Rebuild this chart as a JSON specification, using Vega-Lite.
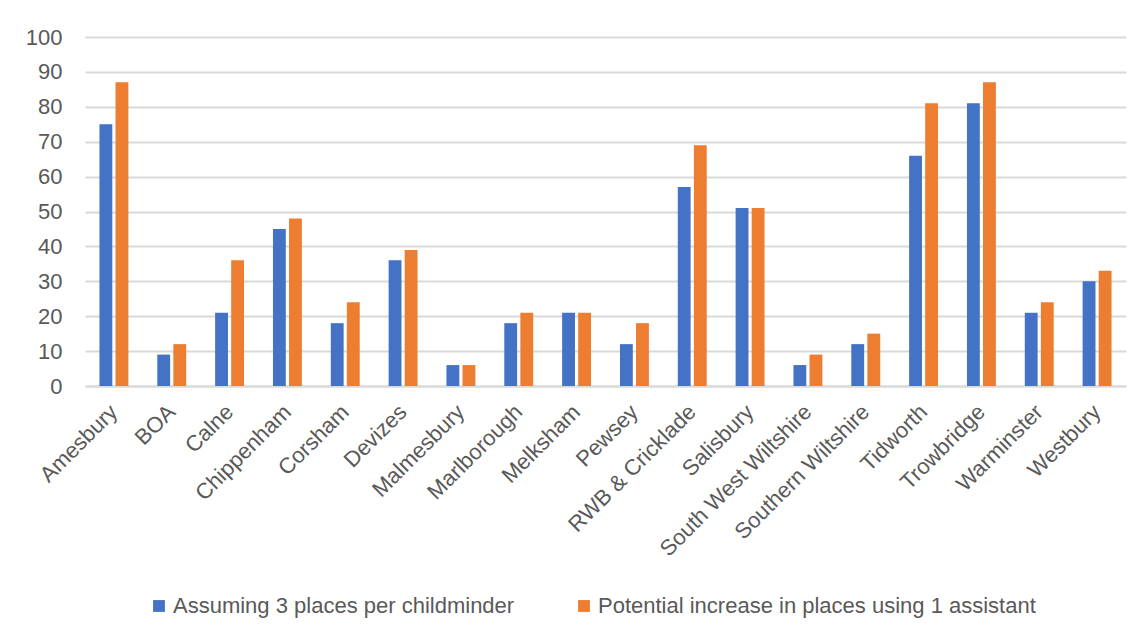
{
  "$schema": "https://vega.github.io/schema/vega-lite/v6.json",
  "autosize": {"type": "none"},
  "padding": {"left": 85, "top": 37, "right": 18, "bottom": 255},
  "width": 1041,
  "height": 349,
  "background": "white",
  "data": {
    "values": [
      {"area": "Amesbury", "series": "Assuming 3 places per childminder", "value": 75},
      {"area": "Amesbury", "series": "Potential increase in places using 1 assistant", "value": 87},
      {"area": "BOA", "series": "Assuming 3 places per childminder", "value": 9},
      {"area": "BOA", "series": "Potential increase in places using 1 assistant", "value": 12},
      {"area": "Calne", "series": "Assuming 3 places per childminder", "value": 21},
      {"area": "Calne", "series": "Potential increase in places using 1 assistant", "value": 36},
      {"area": "Chippenham", "series": "Assuming 3 places per childminder", "value": 45},
      {"area": "Chippenham", "series": "Potential increase in places using 1 assistant", "value": 48},
      {"area": "Corsham", "series": "Assuming 3 places per childminder", "value": 18},
      {"area": "Corsham", "series": "Potential increase in places using 1 assistant", "value": 24},
      {"area": "Devizes", "series": "Assuming 3 places per childminder", "value": 36},
      {"area": "Devizes", "series": "Potential increase in places using 1 assistant", "value": 39},
      {"area": "Malmesbury", "series": "Assuming 3 places per childminder", "value": 6},
      {"area": "Malmesbury", "series": "Potential increase in places using 1 assistant", "value": 6},
      {"area": "Marlborough", "series": "Assuming 3 places per childminder", "value": 18},
      {"area": "Marlborough", "series": "Potential increase in places using 1 assistant", "value": 21},
      {"area": "Melksham", "series": "Assuming 3 places per childminder", "value": 21},
      {"area": "Melksham", "series": "Potential increase in places using 1 assistant", "value": 21},
      {"area": "Pewsey", "series": "Assuming 3 places per childminder", "value": 12},
      {"area": "Pewsey", "series": "Potential increase in places using 1 assistant", "value": 18},
      {"area": "RWB & Cricklade", "series": "Assuming 3 places per childminder", "value": 57},
      {"area": "RWB & Cricklade", "series": "Potential increase in places using 1 assistant", "value": 69},
      {"area": "Salisbury", "series": "Assuming 3 places per childminder", "value": 51},
      {"area": "Salisbury", "series": "Potential increase in places using 1 assistant", "value": 51},
      {"area": "South West Wiltshire", "series": "Assuming 3 places per childminder", "value": 6},
      {"area": "South West Wiltshire", "series": "Potential increase in places using 1 assistant", "value": 9},
      {"area": "Southern Wiltshire", "series": "Assuming 3 places per childminder", "value": 12},
      {"area": "Southern Wiltshire", "series": "Potential increase in places using 1 assistant", "value": 15},
      {"area": "Tidworth", "series": "Assuming 3 places per childminder", "value": 66},
      {"area": "Tidworth", "series": "Potential increase in places using 1 assistant", "value": 81},
      {"area": "Trowbridge", "series": "Assuming 3 places per childminder", "value": 81},
      {"area": "Trowbridge", "series": "Potential increase in places using 1 assistant", "value": 87},
      {"area": "Warminster", "series": "Assuming 3 places per childminder", "value": 21},
      {"area": "Warminster", "series": "Potential increase in places using 1 assistant", "value": 24},
      {"area": "Westbury", "series": "Assuming 3 places per childminder", "value": 30},
      {"area": "Westbury", "series": "Potential increase in places using 1 assistant", "value": 33}
    ]
  },
  "mark": {"type": "bar"},
  "encoding": {
    "x": {
      "field": "area",
      "type": "nominal",
      "sort": null,
      "scale": {"paddingInner": 0.5, "paddingOuter": 0.25},
      "axis": {
        "title": null,
        "labelAngle": -45,
        "labelAlign": "right",
        "labelBaseline": "middle",
        "labelPadding": 22,
        "labelLimit": 400,
        "ticks": false,
        "grid": false,
        "domain": true,
        "domainColor": "#d9d9d9",
        "domainWidth": 2
      }
    },
    "xOffset": {
      "field": "series",
      "type": "nominal",
      "sort": null,
      "scale": {"paddingInner": 0.2}
    },
    "y": {
      "field": "value",
      "type": "quantitative",
      "scale": {"domain": [0, 100], "nice": false},
      "axis": {
        "title": null,
        "values": [0, 10, 20, 30, 40, 50, 60, 70, 80, 90, 100],
        "domain": false,
        "ticks": false,
        "grid": true,
        "gridColor": "#d9d9d9",
        "gridWidth": 2,
        "labelPadding": 23
      }
    },
    "color": {
      "field": "series",
      "type": "nominal",
      "sort": null,
      "scale": {
        "domain": ["Assuming 3 places per childminder", "Potential increase in places using 1 assistant"],
        "range": ["#4472C4", "#ED7D31"]
      },
      "legend": {
        "title": null,
        "orient": "none",
        "legendX": 63,
        "legendY": 558,
        "direction": "horizontal",
        "symbolType": "square",
        "symbolSize": 140,
        "symbolStrokeWidth": 0,
        "labelFontSize": 22,
        "labelColor": "#595959",
        "labelFont": "Liberation Sans",
        "labelOffset": 3,
        "columnPadding": 58,
        "labelLimit": 600
      }
    }
  },
  "config": {
    "view": {"stroke": null},
    "axis": {
      "labelFont": "Liberation Sans",
      "labelFontSize": 22,
      "labelColor": "#595959"
    }
  }
}
